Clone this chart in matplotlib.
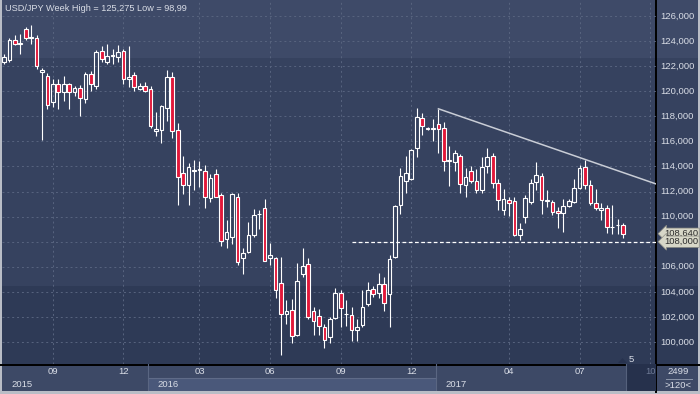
import numpy as np
import matplotlib
matplotlib.use('Agg')
import matplotlib.pyplot as plt
import matplotlib.transforms as mtransforms
from matplotlib.patches import Rectangle, Polygon

# weekly USD/JPY candles (Jul 2015 .. Aug 2017)
opens = [122.35, 122.5, 124.05, 123.78, 125.0, 124.25, 124.25, 121.5, 121.25, 119.12,
         120.55, 119.95, 120.55, 119.92, 120.25, 119.4, 121.35, 120.4, 123.2, 122.35,
         122.8, 122.7, 123.2, 121.0, 121.3, 120.15, 120.4, 120.2, 116.85, 116.9,
         118.7, 121.1, 116.9, 113.45, 112.5, 113.6, 113.75, 113.6, 111.5, 113.4,
         111.7, 108.2, 108.4, 111.55, 106.7, 107.2, 108.5, 110.2, 110.65, 106.7,
         106.7, 104.7, 102.2, 102.55, 100.55, 105.45, 106.25, 102.45, 102.1, 101.2,
         100.4, 101.9, 103.95, 102.2, 102.15, 100.95, 101.35, 103.0, 104.2, 103.9,
         104.65, 103.8, 106.75, 110.9, 112.85, 113.0, 115.45, 117.85, 117.05, 117.0,
         117.4, 117.1, 114.4, 114.35, 114.85, 112.55, 113.65, 112.85, 112.15, 114.0,
         114.8, 112.7, 110.5, 111.3, 111.25, 108.5, 110.0, 111.2, 112.8, 113.25,
         111.25, 111.15, 110.45, 110.3, 110.85, 111.2, 112.3, 113.95, 112.5, 111.1,
         110.5, 110.7, 109.15, 109.3, 109.3]
highs = [123.0, 124.25, 124.5, 124.55, 125.1, 125.275, 124.5, 121.85, 121.45, 121.0,
         121.0, 121.2, 120.65, 120.4, 120.5, 121.5, 121.6, 123.3, 123.6, 123.75,
         123.35, 123.7, 123.4, 123.6, 121.5, 120.65, 120.7, 120.4, 118.35, 118.9,
         121.7, 121.5, 117.5, 114.85, 114.3, 114.5, 114.45, 114.1, 113.4, 113.8,
         111.85, 109.7, 111.9, 111.9, 107.5, 109.6, 110.6, 110.5, 111.4, 107.9,
         106.8, 106.8, 103.35, 103.4, 106.3, 107.5, 106.7, 102.8, 102.6, 101.45,
         102.0, 104.3, 104.15, 103.35, 102.8, 101.8, 104.15, 104.8, 104.45, 105.5,
         105.2, 106.95, 110.95, 113.9, 114.8, 115.4, 118.7, 118.25, 117.15, 117.75,
         118.6, 117.55, 115.6, 115.35, 115.0, 113.85, 114.0, 113.8, 114.75, 115.5,
         115.05, 113.0, 112.2, 111.55, 111.55, 109.5, 111.75, 113.0, 114.35, 113.5,
         112.1, 111.35, 110.8, 111.4, 111.4, 113.0, 114.15, 114.5, 112.9, 112.2,
         111.05, 110.95, 110.95, 109.85, 109.5]
lows = [122.2, 122.35, 123.65, 123.0, 124.1, 123.8, 121.75, 116.1, 118.55, 118.75,
        118.6, 119.2, 118.6, 119.6, 118.0, 119.1, 120.0, 120.2, 122.3, 122.15,
        122.2, 122.3, 120.6, 120.3, 120.0, 120.1, 119.95, 117.1, 116.45, 115.9,
        117.6, 116.25, 110.9, 111.8, 110.95, 112.1, 112.35, 110.7, 111.2, 111.55,
        107.65, 107.5, 107.8, 106.15, 105.45, 107.1, 108.4, 109.0, 106.45, 106.15,
        103.5, 98.99, 101.4, 99.95, 100.45, 105.2, 101.8, 100.55, 100.55, 99.5,
        99.9, 101.8, 101.2, 101.3, 100.1, 100.05, 101.2, 102.85, 103.6, 103.55,
        102.45, 101.2, 106.7, 110.2, 111.85, 112.9, 114.75, 116.5, 116.9, 116.0,
        115.05, 113.65, 112.45, 113.6, 111.9, 111.55, 112.65, 111.85, 111.85, 113.5,
        112.25, 110.55, 110.1, 110.05, 108.45, 108.1, 109.5, 111.0, 112.1, 110.25,
        110.8, 110.15, 109.1, 108.8, 110.8, 111.1, 112.2, 112.2, 110.95, 110.5,
        109.75, 108.7, 108.6, 108.65, 108.27]
closes = [122.7, 124.1, 123.8, 123.85, 124.25, 124.3, 122.0, 121.7, 118.9, 120.55,
          119.92, 120.55, 119.9, 120.23, 119.45, 121.4, 120.55, 123.15, 122.55, 122.8,
          122.85, 123.1, 120.95, 121.1, 120.3, 120.42, 120.05, 117.2, 117.0, 118.8,
          121.1, 116.8, 113.2, 112.55, 113.95, 113.75, 113.8, 111.55, 113.05, 111.6,
          108.05, 108.75, 111.8, 106.4, 107.1, 108.55, 110.1, 110.25, 106.5, 106.95,
          104.15, 102.2, 102.5, 100.5, 104.85, 106.05, 102.0, 101.7, 101.3, 100.15,
          101.85, 103.95, 102.7, 102.25, 100.95, 101.2, 102.8, 104.15, 103.8, 104.65,
          103.1, 106.6, 110.85, 113.25, 113.45, 115.3, 117.95, 117.25, 117.0, 117.05,
          117.0, 114.45, 114.55, 115.05, 112.6, 113.15, 112.85, 112.1, 113.95, 114.75,
          112.7, 111.3, 111.4, 111.05, 108.5, 109.05, 111.45, 112.7, 113.35, 111.3,
          111.3, 110.35, 110.3, 110.85, 111.25, 112.3, 113.9, 112.5, 111.1, 110.65,
          110.65, 109.15, 109.2, 109.35, 108.64]

month_idx = [9, 22, 36, 49, 62, 75, 93, 106, 119]
month_lbl = ['09', '12', '03', '06', '09', '12', '04', '07', '10']
year_idx = [0, 27, 80]
year_lbl = ['2015', '2016', '2017']
price_ticks = [100, 102, 104, 106, 108, 110, 112, 114, 116, 118, 120, 122, 124, 126]

trend_idx = [80, 120]
trend_val = [118.6, 112.62]
level = 108.0
level_start = 64
last_price = 108.64
title = 'USD/JPY Week High = 125,275 Low = 98,99'

W, H = 700, 394
BAR_MIN, BAR_MAX = -0.37, 120.07
TXT = '#d9dde6'
RED = '#e2183a'
GRID = '#58647f'

plt.rcParams['font.family'] = ['Liberation Sans', 'DejaVu Sans']
fig = plt.figure(figsize=(W / 100, H / 100), dpi=100)

# background in pixel coords
bg = fig.add_axes([0, 0, 1, 1])
bg.set_xlim(0, W)
bg.set_ylim(H, 0)
bg.axis('off')
for y0, y1, col in [(0, 58, '#3e4a68'), (58, 286, '#36425f'), (286, 364, '#2e3a56')]:
    bg.add_patch(Rectangle((0, y0), W, y1 - y0, color=col, lw=0))
bg.add_patch(Rectangle((0, 364), W, 30, color='#3d4966', lw=0))
bg.plot([656, 656], [0, 392], color='black', lw=1.4)
bg.plot([0, W], [364.5, 364.5], color='black', lw=1.4)
for x, y, w, h in [(0, 0, 2, H), (0, 391, W, 3), (698, 0, 2, H)]:
    bg.add_patch(Rectangle((x, y), w, h, color='#b9bdc6', lw=0))
# bar count box
bg.text(678, 371.5, '2499', color=TXT, fontsize=6.8, ha='center', va='center')
bg.plot([666, 692], [378.5, 378.5], color='#8c96aa', lw=0.7)
bg.text(678, 385, '>120<', color=TXT, fontsize=6.8, ha='center', va='center')
bg.text(5, 8, title, color=TXT, fontsize=6.6, ha='left', va='center')

# main price axes
ax = fig.add_axes([2 / W, 30 / H, 654 / W, 363 / H])
ax.set_facecolor('none')
ax.set_xlim(BAR_MIN, BAR_MAX)
ax.set_ylim(98.249, 127.196)
for s in ax.spines.values():
    s.set_visible(False)
ax.set_xticks([])
ax.set_yticks([])

for p in price_ticks:
    ax.axhline(p, color=GRID, lw=0.7, ls=(0, (2, 3)), zorder=1)
for m in month_idx:
    ax.axvline(m, color=GRID, lw=0.7, ls=(0, (2, 3)), zorder=1)

o = np.array(opens)
hi = np.array(highs)
lo = np.array(lows)
c = np.array(closes)
idx = np.arange(len(o))
top = np.maximum(o, c)
bot = np.minimum(o, c)
hgt = np.maximum(top - bot, 0.05)
up = c >= o

ax.vlines(idx, top, hi, color='white', lw=0.8, zorder=3)
ax.vlines(idx, lo, bot, color='white', lw=0.8, zorder=3)
ax.bar(idx[up], hgt[up], bottom=bot[up], width=0.68, facecolor='none',
       edgecolor='white', lw=0.8, zorder=4)
ax.bar(idx[~up], hgt[~up], bottom=bot[~up], width=0.68, facecolor=RED,
       edgecolor='white', lw=0.8, zorder=4)

ax.hlines(level, level_start, BAR_MAX, colors='white', lw=0.9, linestyles=(0, (3, 2)), zorder=2)
ax.plot(trend_idx, trend_val, color='#c9cdd6', lw=1.1, zorder=5)

# right price scale
tr = mtransforms.blended_transform_factory(fig.transFigure, ax.transData)
for p in price_ticks:
    ax.text(660 / W, p, f'{p},000', transform=tr, color=TXT, fontsize=6.8,
            ha='left', va='center', clip_on=False)
tag = dict(boxstyle='larrow,pad=0.12', fc='#d7d7c8', ec='#8d8d84', lw=0.5)
ax.text(664 / W, last_price, f'{last_price:.3f}'.replace('.', ','), transform=tr,
        color='#2b2b2b', fontsize=6.8, ha='left', va='center', bbox=tag, clip_on=False, zorder=6)
ax.text(664 / W, level, f'{level:.3f}'.replace('.', ','), transform=tr,
        color='#2b2b2b', fontsize=6.8, ha='left', va='center', bbox=tag, clip_on=False, zorder=7)

# shift marker
bg.add_patch(Polygon([[618, 363], [627, 363], [622.5, 358]], color='#27324e', lw=0))
bg.text(631, 359.5, '5', color=TXT, fontsize=6.8, ha='center', va='center')

# time panel
tax = fig.add_axes([2 / W, 3 / H, 654 / W, 27 / H])
tax.set_facecolor('none')
tax.set_xlim(BAR_MIN, BAR_MAX)
tax.set_ylim(0, 1)
tax.axis('off')
tax.add_patch(Rectangle((year_idx[1] - 0.5, 0), year_idx[2] - year_idx[1], 0.49,
                        color='#4a587a', lw=0))
tax.plot([year_idx[1] - 0.5, year_idx[2] - 0.5], [0.49, 0.49], color='#5f6b88', lw=0.8)
tax.add_patch(Rectangle((len(o) - 0.5, 0), BAR_MAX - len(o) + 0.5, 1, color='#26314c', lw=0))
for y in year_idx[1:]:
    tax.axvline(y - 0.5, color='#5a6682', lw=0.8)
tax.axvline(len(o) - 0.5, color='#55617c', lw=0.8)
for m, lbl in zip(month_idx, month_lbl):
    col = TXT if m < len(o) else '#6e7a95'
    tax.text(m, 0.74, lbl, color=col, fontsize=6.8, ha='center', va='center', clip_on=True)
for y, lbl in zip(year_idx, year_lbl):
    tax.text(y + 1.3, 0.24, lbl, color=TXT, fontsize=6.8, ha='left', va='center')

fig.savefig('out.png', dpi=100)
